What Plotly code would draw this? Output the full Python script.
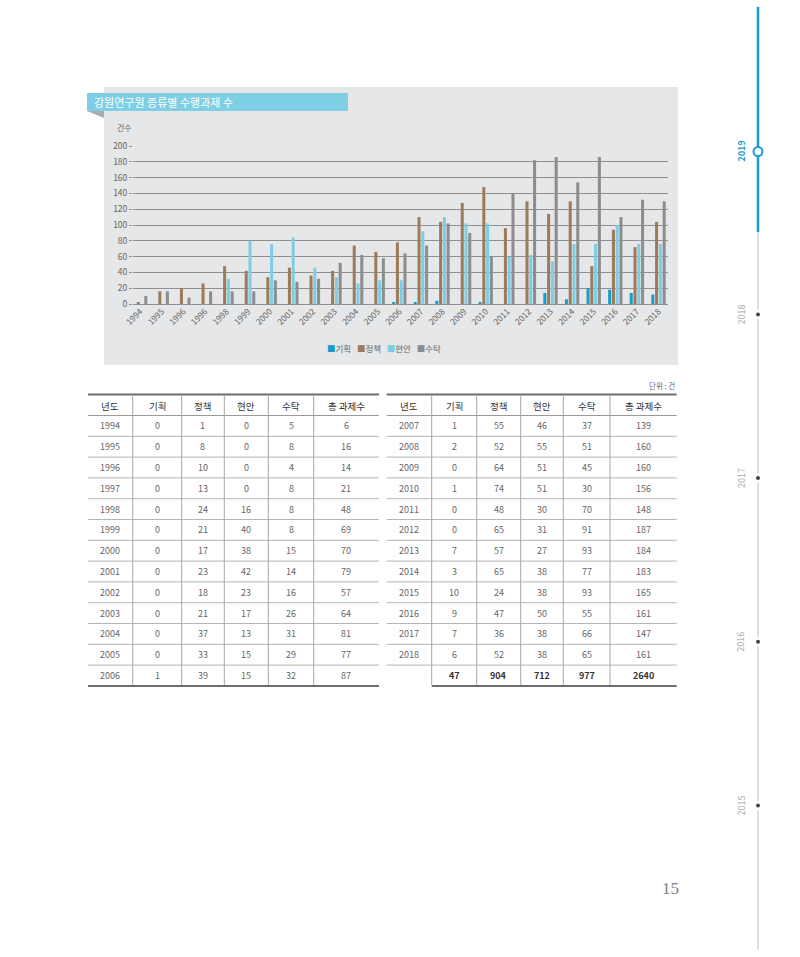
import plotly.graph_objects as go

# ---------------- data ----------------
series_names = ["기획", "정책", "현안", "수탁"]
series_colors = ["#1b9bc7", "#9c7b5b", "#7ecde4", "#8c8d8f"]

# chart x tick labels (as printed on the chart)
chart_labels = ["1994", "1995", "1996", "1996", "1998", "1999", "2000", "2001", "2002",
                "2003", "2004", "2005", "2006", "2007", "2008", "2009", "2010", "2011",
                "2012", "2013", "2014", "2015", "2016", "2017", "2018"]
# bar heights
chart_gihoek = [0, 0, 0, 0, 0, 0, 0, 0, 0, 0, 0, 0, 2, 2, 4, 0, 2, 0, 0, 14, 6, 20, 18, 14, 12]
chart_jeongchaek = [2, 16, 20, 26, 48, 42, 34, 46, 36, 42, 74, 66, 78, 110, 104, 128, 148, 96,
                    130, 114, 130, 48, 94, 72, 104]
chart_hyeonan = [0, 0, 0, 0, 32, 80, 76, 84, 46, 34, 26, 30, 30, 92, 110, 102, 102, 60, 62,
                 54, 76, 76, 100, 76, 76]
chart_sutak = [10, 16, 8, 16, 16, 16, 30, 28, 32, 52, 62, 58, 64, 74, 102, 90, 60, 140, 182,
               186, 154, 186, 110, 132, 130]
y_ticks = [0, 20, 40, 60, 80, 100, 120, 140, 160, 180, 200]

# table values
table_header = ["년도", "기획", "정책", "현안", "수탁", "총 과제수"]
table_years = [1994, 1995, 1996, 1997, 1998, 1999, 2000, 2001, 2002, 2003, 2004, 2005, 2006,
               2007, 2008, 2009, 2010, 2011, 2012, 2013, 2014, 2015, 2016, 2017, 2018]
table_gihoek = [0, 0, 0, 0, 0, 0, 0, 0, 0, 0, 0, 0, 1, 1, 2, 0, 1, 0, 0, 7, 3, 10, 9, 7, 6]
table_jeongchaek = [1, 8, 10, 13, 24, 21, 17, 23, 18, 21, 37, 33, 39, 55, 52, 64, 74, 48, 65,
                    57, 65, 24, 47, 36, 52]
table_hyeonan = [0, 0, 0, 0, 16, 40, 38, 42, 23, 17, 13, 15, 15, 46, 55, 51, 51, 30, 31, 27,
                 38, 38, 50, 38, 38]
table_sutak = [5, 8, 4, 8, 8, 8, 15, 14, 16, 26, 31, 29, 32, 37, 51, 45, 30, 70, 91, 93, 77,
               93, 55, 66, 65]
table_total = [6, 16, 14, 21, 48, 69, 70, 79, 57, 64, 81, 77, 87, 139, 160, 160, 156, 148, 187,
               184, 183, 165, 161, 147, 161]
table_sums = ["", "47", "904", "712", "977", "2640"]

timeline_years = ["2019", "2018", "2017", "2016", "2015"]

# ---------------- helpers ----------------
W, H = 800, 957


def X(px):
    return px / W


def Y(py):
    return 1 - py / H


FONT = "Noto Sans CJK KR, Noto Sans, sans-serif"

fig = go.Figure()
chart_series = [chart_gihoek, chart_jeongchaek, chart_hyeonan, chart_sutak]
for name, color, vals in zip(series_names, series_colors, chart_series):
    fig.add_trace(go.Bar(x=list(range(len(chart_labels))), y=vals, name=name,
                         marker=dict(color=color, line=dict(width=0)), showlegend=False))

shapes = []
annotations = []

# chart panel & title banner
shapes.append(dict(type="rect", xref="paper", yref="paper", x0=X(104), x1=X(678), y0=Y(365), y1=Y(87),
                   fillcolor="#e6e7e8", line=dict(width=0), layer="below"))
shapes.append(dict(type="rect", xref="paper", yref="paper", x0=X(87), x1=X(348), y0=Y(111), y1=Y(93),
                   fillcolor="#7ecfe5", line=dict(width=0), layer="below"))
shapes.append(dict(type="path", xref="paper", yref="paper",
                   path=f"M {X(87)},{Y(111)} L {X(104)},{Y(111)} L {X(104)},{Y(118)} Z",
                   fillcolor="#a3adb2", line=dict(width=0), layer="below"))
annotations.append(dict(x=X(92), y=Y(102), xref="paper", yref="paper", xanchor="left", yanchor="middle",
                        text="강원연구원 종류별 수행과제 수", showarrow=False,
                        font=dict(family=FONT, size=11, color="white")))
annotations.append(dict(x=X(124), y=Y(128), xref="paper", yref="paper", xanchor="center", yanchor="middle",
                        text="건수", showarrow=False, font=dict(family=FONT, size=8, color="#666666")))

# legend (custom, compact)
leg = "&nbsp;&nbsp;&nbsp;".join(f"<span style='color:{c}'>■</span>{n}"
                                for n, c in zip(series_names, series_colors))
annotations.append(dict(x=X(384), y=Y(348), xref="paper", yref="paper", xanchor="center", yanchor="middle",
                        text=leg, showarrow=False, font=dict(family=FONT, size=8.5, color="#666666")))

# ---------------- table ----------------
left_edges = [88, 132.7, 181.7, 224.3, 268.3, 313.7, 379]
right_edges = [386.7, 431.7, 476.7, 520.7, 563.3, 610, 676.7]
top_y = 394.5
head_bot = 415.5
pitch = 20.8
n_rows = 13
bot_y = head_bot + pitch * n_rows

annotations.append(dict(x=X(677), y=Y(385), xref="paper", yref="paper", xanchor="right", yanchor="middle",
                        text="단위 : 건", showarrow=False, font=dict(family=FONT, size=7.5, color="#666666")))

table_cols = [table_years, table_gihoek, table_jeongchaek, table_hyeonan, table_sutak, table_total]
halves = [(left_edges, 0, 13, False), (right_edges, 13, 25, True)]
for edges, i0, i1, has_sum in halves:
    x0, x1 = edges[0], edges[-1]
    shapes.append(dict(type="line", xref="paper", yref="paper", x0=X(x0), x1=X(x1), y0=Y(top_y), y1=Y(top_y),
                       line=dict(color="#6d6e70", width=2)))
    shapes.append(dict(type="line", xref="paper", yref="paper", x0=X(x0), x1=X(x1), y0=Y(head_bot), y1=Y(head_bot),
                       line=dict(color="#9a9a9a", width=1)))
    for k in range(1, n_rows):
        yy = head_bot + pitch * k
        shapes.append(dict(type="line", xref="paper", yref="paper", x0=X(x0), x1=X(x1), y0=Y(yy), y1=Y(yy),
                           line=dict(color="#b5b5b5", width=1)))
    bx0 = edges[1] if has_sum else x0
    shapes.append(dict(type="line", xref="paper", yref="paper", x0=X(bx0), x1=X(x1), y0=Y(bot_y), y1=Y(bot_y),
                       line=dict(color="#6d6e70", width=2)))
    for e in edges[1:-1]:
        shapes.append(dict(type="line", xref="paper", yref="paper", x0=X(e), x1=X(e), y0=Y(top_y + 1), y1=Y(bot_y - 1),
                           line=dict(color="#a5a5a5", width=1)))
    centers = [(edges[j] + edges[j + 1]) / 2 for j in range(6)]
    for j, h in enumerate(table_header):
        annotations.append(dict(x=X(centers[j]), y=Y((top_y + head_bot) / 2 + 0.5), xref="paper", yref="paper",
                                xanchor="center", yanchor="middle", text=h, showarrow=False,
                                font=dict(family=FONT, size=9.5, color="#333333")))
    for r, i in enumerate(range(i0, i1)):
        yc = head_bot + pitch * (r + 0.5)
        for j, col in enumerate(table_cols):
            annotations.append(dict(x=X(centers[j]), y=Y(yc), xref="paper", yref="paper",
                                    xanchor="center", yanchor="middle", text=str(col[i]), showarrow=False,
                                    font=dict(family=FONT, size=9, color="#666666")))
    if has_sum:
        yc = head_bot + pitch * (n_rows - 0.5)
        for j, s in enumerate(table_sums):
            if s:
                annotations.append(dict(x=X(centers[j]), y=Y(yc), xref="paper", yref="paper",
                                        xanchor="center", yanchor="middle", text=f"<b>{s}</b>", showarrow=False,
                                        font=dict(family=FONT, size=9, color="#333333")))

# ---------------- side timeline ----------------
LX = 758
shapes.append(dict(type="line", xref="paper", yref="paper", x0=X(LX), x1=X(LX), y0=Y(232), y1=Y(950),
                   line=dict(color="#d3d3d3", width=1.5)))
shapes.append(dict(type="line", xref="paper", yref="paper", x0=X(LX), x1=X(LX), y0=Y(7), y1=Y(232),
                   line=dict(color="#1d9bd1", width=2.5)))
tl_pos = [151.5, 314.5, 478, 641.7, 805.5]
for k, (yr, py) in enumerate(zip(timeline_years, tl_pos)):
    if k == 0:
        shapes.append(dict(type="circle", xref="paper", yref="paper", x0=X(LX - 4.5), x1=X(LX + 4.5),
                           y0=Y(py + 4.5), y1=Y(py - 4.5), fillcolor="white",
                           line=dict(color="#1d9bd1", width=2)))
        annotations.append(dict(x=X(741), y=Y(py), xref="paper", yref="paper", xanchor="center", yanchor="middle",
                                text=f"<b>{yr}</b>", textangle=-90, showarrow=False,
                                font=dict(family=FONT, size=9, color="#1d9bd1")))
    else:
        shapes.append(dict(type="rect", xref="paper", yref="paper", x0=X(LX - 2), x1=X(LX + 2),
                           y0=Y(py + 4.5), y1=Y(py - 4.5), fillcolor="white", line=dict(width=0)))
        shapes.append(dict(type="circle", xref="paper", yref="paper", x0=X(LX - 2), x1=X(LX + 2),
                           y0=Y(py + 2), y1=Y(py - 2), fillcolor="#444444", line=dict(width=0)))
        annotations.append(dict(x=X(741), y=Y(py), xref="paper", yref="paper", xanchor="center", yanchor="middle",
                                text=yr, textangle=-90, showarrow=False,
                                font=dict(family=FONT, size=9, color="#a8a8a8")))

# page number
annotations.append(dict(x=X(670), y=Y(888), xref="paper", yref="paper", xanchor="center", yanchor="middle",
                        text="15", showarrow=False,
                        font=dict(family="Liberation Serif, DejaVu Serif, serif", size=17, color="#808080")))

fig.update_layout(
    width=W, height=H, autosize=False,
    margin=dict(l=0, r=0, t=0, b=0, pad=0, autoexpand=False),
    paper_bgcolor="white", plot_bgcolor="rgba(0,0,0,0)",
    barmode="group", bargap=0.3, bargroupgap=0.2,
    showlegend=False,
    shapes=shapes, annotations=annotations,
    xaxis=dict(domain=[X(133), X(668)], range=[-0.33, 24.44], tickmode="array",
               tickvals=list(range(len(chart_labels))), ticktext=chart_labels, tickangle=-45,
               showgrid=False, zeroline=False, showline=False, ticks="", automargin=False,
               tickfont=dict(family=FONT, size=8.5, color="#666666"), fixedrange=True),
    yaxis=dict(domain=[Y(304), Y(146)], range=[0, 200], tickmode="array", tickvals=y_ticks,
               showgrid=True, gridcolor="#8f9092", gridwidth=1.3, automargin=False,
               zeroline=True, zerolinecolor="#8f9092", zerolinewidth=1.3, showline=False,
               ticks="outside", ticklen=3, tickcolor="#8f9092",
               tickfont=dict(family=FONT, size=8.5, color="#666666"), fixedrange=True),
)

fig.write_html("out.html")
